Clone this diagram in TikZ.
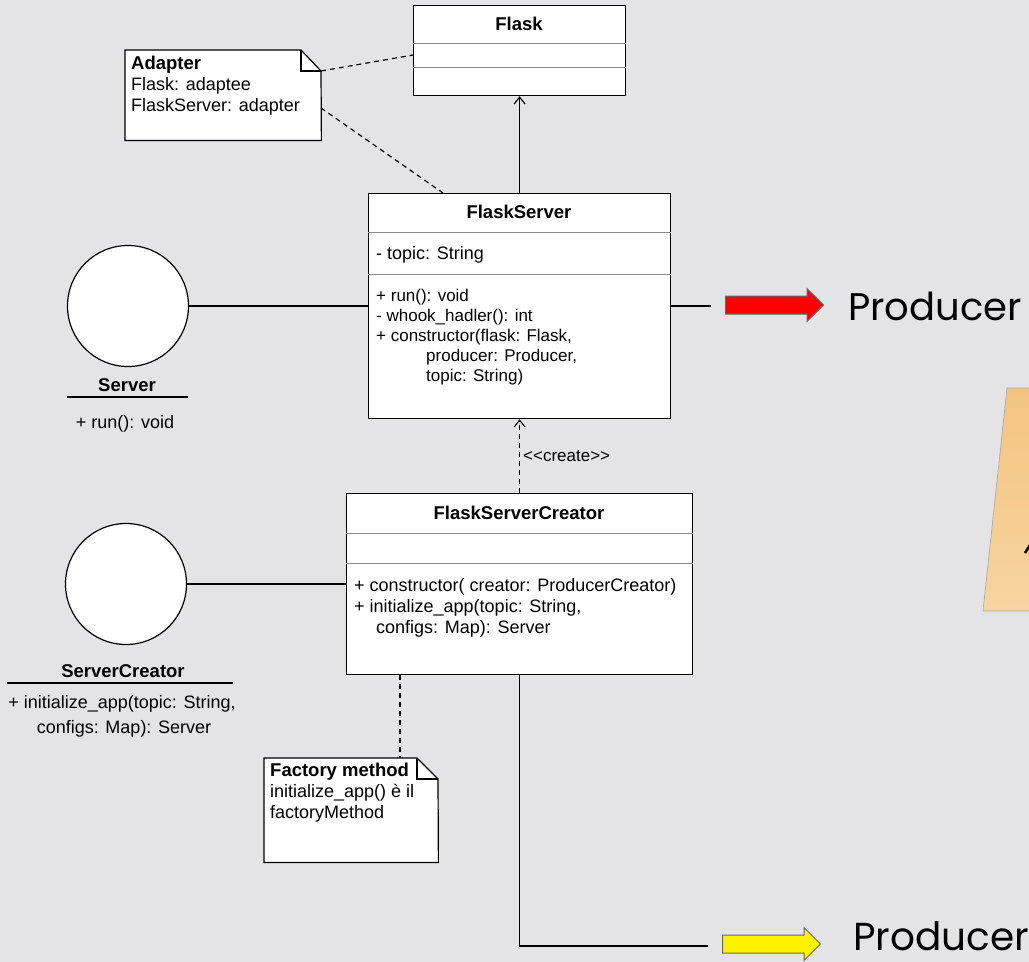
\documentclass[tikz,border=0pt]{standalone}
\usepackage{fontspec}
\setmainfont{Liberation Sans}
\newfontfamily\prodfont{Poppins}
\usetikzlibrary{arrows.meta,shapes.arrows}
\definecolor{bgcol}{RGB}{228,228,230}
\definecolor{divcol}{RGB}{140,140,140}
\definecolor{papertop}{RGB}{243,196,128}
\definecolor{paperbot}{RGB}{248,212,160}
\tikzset{
  umlbox/.style={draw=black, line width=1.2pt, fill=white, inner sep=0pt, anchor=north west},
  divider/.style={draw=divcol, line width=0.8pt},
  txt/.style={font=\fontsize{18}{21}\selectfont, inner sep=0pt, anchor=west},
  smalltxt/.style={font=\fontsize{17}{20}\selectfont, inner sep=0pt, anchor=west},
  ctxt/.style={font=\fontsize{18}{21}\selectfont, inner sep=0pt},
  ttl/.style={font=\fontsize{18.5}{21}\selectfont\bfseries, inner sep=0pt},
  conn/.style={draw=black, line width=1.2pt},
  dashconn/.style={draw=black, line width=1.2pt, dash pattern=on 5pt off 4pt},
  openhead/.style={-{Straight Barb[length=7pt,width=11pt,line width=1.1pt]}},
  iface/.style={circle, draw=black, line width=1.2pt, fill=white, minimum size=121pt, inner sep=0pt},
  notebox/.style={draw=none, inner sep=0pt, anchor=north west},
  blockarrow/.style={single arrow, draw=black!60, line width=1pt, inner xsep=0pt, inner ysep=8.5pt,
     single arrow head extend=7.5pt, single arrow tip angle=90, anchor=tail},
  prodtxt/.style={inner sep=0pt, anchor=base west, text=black}
}
\begin{document}
\begin{tikzpicture}[x=1pt,y=-1pt]
\useasboundingbox (0,0) rectangle (1029,962);
\fill[bgcol] (0,0) rectangle (1029,962);

% orange paper at right edge
\shade[top color=papertop, bottom color=paperbot, draw=gray!70, line width=0.6pt]
  (1007,388) -- (1030,388) -- (1030,611) -- (983,611) -- cycle;
\draw[black, line width=2.5pt] (1025,553) -- (1030,545);

% ---------- Flask ----------
\node[umlbox, minimum width=212pt, minimum height=90pt] (flask) at (413,5) {};
\draw[divider] (flask.west |- 0,43) -- (flask.east |- 0,43);
\draw[divider] (flask.west |- 0,67) -- (flask.east |- 0,67);
\node[ttl] (flaskT) at (519,24) {Flask};

% ---------- FlaskServer ----------
\node[umlbox, minimum width=302pt, minimum height=225pt] (fs) at (368,193) {};
\draw[divider] (fs.west |- 0,232) -- (fs.east |- 0,232);
\draw[divider] (fs.west |- 0,274) -- (fs.east |- 0,274);
\node[ttl] (fsT) at (519,212) {FlaskServer};
\node[txt] (fsA) at (376,255) {- topic: String};
\node[smalltxt] (fsM1) at (376,297) {+ run(): void};
\node[smalltxt] (fsM2) at (376,317) {- whook\_hadler(): int};
\node[smalltxt] (fsM3) at (376,337) {+ constructor(flask: Flask,};
\node[smalltxt] (fsM4) at (426,357) {producer: Producer,};
\node[smalltxt] (fsM5) at (426,377) {topic: String)};

% ---------- FlaskServerCreator ----------
\node[umlbox, minimum width=346pt, minimum height=181pt] (fsc) at (346,493) {};
\draw[divider] (fsc.west |- 0,533) -- (fsc.east |- 0,533);
\draw[divider] (fsc.west |- 0,563) -- (fsc.east |- 0,563);
\node[ttl] (fscT) at (519,513) {FlaskServerCreator};
\node[txt] (fscM1) at (354,587) {+ constructor( creator: ProducerCreator)};
\node[txt] (fscM2) at (354,608) {+ initialize\_app(topic: String,};
\node[txt] (fscM3) at (376,629) {configs: Map): Server};

% ---------- Server interface ----------
\node[iface] (server) at (128,306) {};
\node[ttl] (serverT) at (127,385) {Server};
\draw[line width=1.2pt] (67,397) -- (188,397);
\node[ctxt] (serverM) at (125,424) {+ run(): void};

% ---------- ServerCreator interface ----------
\node[iface] (screator) at (126,584) {};
\node[ttl] (screatorT) at (123,671) {ServerCreator};
\draw[line width=1.2pt] (7,683) -- (233,683);
\node[ctxt] (screatorM1) at (122,704) {+ initialize\_app(topic: String,};
\node[ctxt] (screatorM2) at (124,729) {configs: Map): Server};

% ---------- Adapter note ----------
\node[notebox, minimum width=196pt, minimum height=90pt] (adapter) at (125,50) {};
\filldraw[fill=white, draw=black, line width=1.2pt]
  (adapter.north west) -- (301,50) -- (321,71) -- (adapter.south east) -- (adapter.south west) -- cycle;
\draw[line width=1.2pt] (301,50) -- (301,71) -- (321,71);
\node[ttl, anchor=west] (adapterT) at (131,65) {Adapter};
\node[txt] (adapterL1) at (131,86) {Flask: adaptee};
\node[txt] (adapterL2) at (131,107) {FlaskServer: adapter};
\coordinate (adapterC) at (321,71);
\coordinate (adapterR) at (321,108);

% ---------- Factory method note ----------
\node[notebox, minimum width=174pt, minimum height=104pt] (factory) at (264,758) {};
\filldraw[fill=white, draw=black, line width=1.2pt]
  (factory.north west) -- (417,758) -- (438,779) -- (factory.south east) -- (factory.south west) -- cycle;
\draw[line width=1.2pt] (417,758) -- (417,779) -- (438,779);
\node[ttl, anchor=west] (factoryT) at (270,772) {Factory method};
\node[txt] (factoryL1) at (270,793) {initialize\_app() è il};
\node[txt] (factoryL2) at (270,814) {factoryMethod};

% ---------- connectors ----------
\draw[dashconn] (adapterC) -- (flask.west |- 0,55);
\draw[dashconn] (adapterR) -- (fs.north -| 443,0);
\draw[conn, openhead] (fs.north) -- (flask.south);
\draw[dashconn, openhead] (fsc.north) -- node[right=3pt, font=\fontsize{17}{20}\selectfont, inner sep=0pt] (createL) {<{}<create>{}>} (fs.south);
\draw[conn] (server.east) -- (fs.west |- server.east);
\draw[conn] (screator.east) -- (fsc.west |- screator.east);
\draw[dashconn] (fsc.south -| 400,0) -- (factory.north -| 400,0);

\coordinate (fsOut) at (711,306);
\draw[conn] (fs.east |- fsOut) -- (fsOut);
\coordinate (fscOut) at (708,946);
\draw[conn] (fsc.south) |- (fscOut);

% ---------- block arrows and Producer labels ----------
\node[blockarrow, fill=red, minimum height=98pt] (redarrow) at (725,305) {};
\node[prodtxt, font=\prodfont\fontsize{38.5}{42}\selectfont] (prod1) at (848,320) {Producer};
\node[blockarrow, fill=yellow, minimum height=98pt] (yelarrow) at (722,944) {};
\node[prodtxt, font=\prodfont\fontsize{39}{43}\selectfont] (prod2) at (853,950) {Producer};
\end{tikzpicture}
\end{document}
